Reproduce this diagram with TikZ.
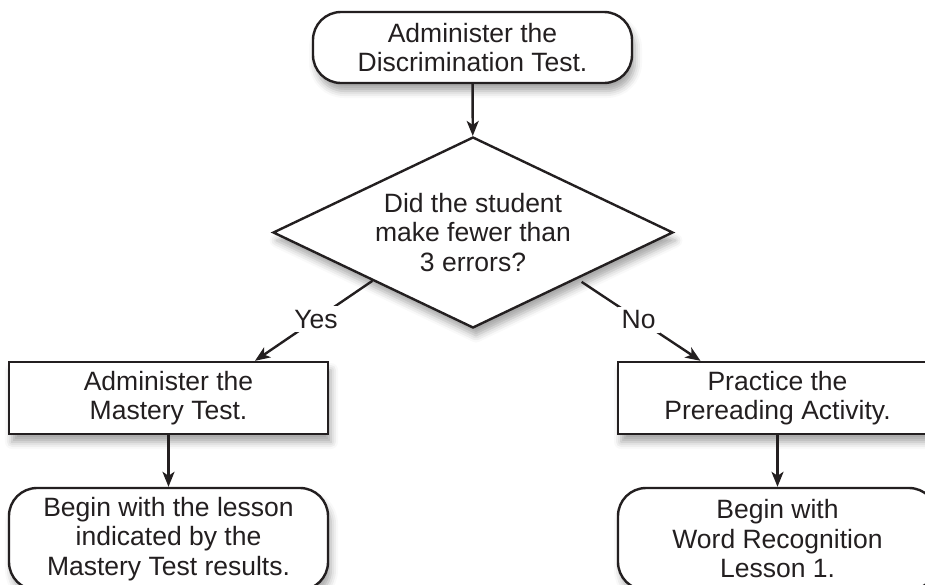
\documentclass[tikz,border=0pt]{standalone}
\usepackage{fontspec}
\setmainfont{Liberation Sans}
\usetikzlibrary{shapes.geometric,arrows.meta,shadows.blur}
\definecolor{ink}{HTML}{231F20}
\tikzset{
  txt/.style={font=\fontsize{26.5}{29.5}\selectfont},
  base/.style={draw=ink, line width=2.4pt, fill=white, text=ink, align=center,
    txt, inner sep=0pt,
    blur shadow={shadow xshift=3pt, shadow yshift=-8pt, shadow blur radius=7pt, shadow opacity=35}},
  roundbox/.style={base, rectangle, rounded corners=28pt, minimum width=319pt},
  squarebox/.style={base, rectangle, minimum width=319pt, minimum height=72pt},
  decision/.style={base, diamond, minimum width=400pt, minimum height=191pt},
  arrowline/.style={draw=ink, line width=2.4pt, -{Stealth[length=15pt,width=12pt,inset=4pt]}},
  lbl/.style={fill=white, text=ink, txt, inner sep=4pt}
}
\begin{document}
\begin{tikzpicture}[x=1pt,y=-1pt]
\useasboundingbox (0,0) rectangle (925,584);
\clip (0,0) rectangle (925,584);
\node[roundbox, minimum height=71pt] (top) at (472.5,47.5) {Administer the\\Discrimination Test.};
\node[decision, label={[text=ink, align=center, txt]center:Did the student\\make fewer than\\3 errors?}] (dec) at (473,232.5) {};
\node[squarebox] (q1) at (168.5,398) {Administer the\\Mastery Test.};
\node[squarebox] (q2) at (777.5,398) {Practice the\\Prereading Activity.};
\node[roundbox, minimum height=102pt] (e1) at (168.5,539) {Begin with the lesson\\indicated by the\\Mastery Test results.};
\node[roundbox, minimum height=102pt] (e2) at (777.5,539) {Begin with\\Word Recognition\\Lesson 1.};
\draw[arrowline] (top) -- (dec);
\draw[arrowline] (dec.south west) -- node[lbl, pos=0.48] {Yes} ([xshift=86.5pt]q1.north);
\draw[arrowline] ([xshift=8pt,yshift=-1pt]dec.south east) -- node[lbl, pos=0.48] {No} ([xshift=-77pt]q2.north);
\draw[arrowline] (q1) -- (e1);
\draw[arrowline] (q2) -- (e2);
\end{tikzpicture}
\end{document}
